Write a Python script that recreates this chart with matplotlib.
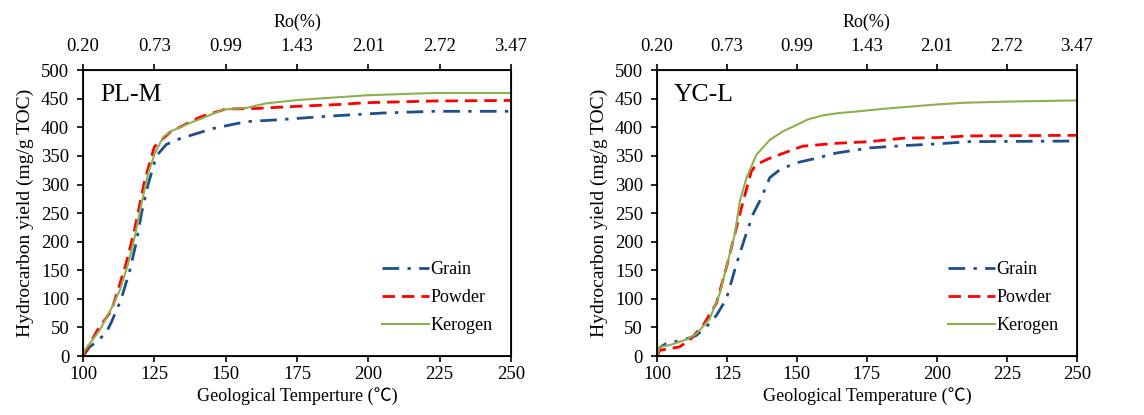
import matplotlib
matplotlib.use("Agg")
import matplotlib.pyplot as plt

# PL-M: temperature (degC) vs hydrocarbon yield (mg/g TOC)
plm_grain_t = [100, 102.3, 104.7, 108, 110, 113.4, 116.4, 118.7, 120.5, 122.8, 125.7, 129.2,
               133.9, 145.6, 157.3, 167.8, 187.7, 205, 222.8, 250]
plm_grain_y = [0, 16, 25, 40, 60, 100, 150, 200, 250, 300, 350, 370,
               380, 398, 410, 413, 420, 425, 428, 428]
plm_powder_t = [100, 102, 105, 110, 115, 118, 121.6, 125, 130.6, 141, 150, 160.8,
                176, 190, 199, 222.8, 250]
plm_powder_y = [0, 18, 45, 80, 160, 220, 307, 366, 392, 418, 432, 433,
                437, 440, 443, 446, 447]
plm_kerogen_t = [100, 100.6, 105.8, 109.9, 112.9, 115.8, 118.1, 120.5, 122.8, 125.1, 128.1,
                 130.4, 136.2, 143.3, 149.1, 157.3, 164.3, 176, 187.7, 199.4, 211, 222.8, 250]
plm_kerogen_y = [0, 10, 45, 83, 115, 162, 208, 267, 319, 354, 383,
                 392, 405, 419, 431, 434, 442, 448, 452, 456, 458, 460, 460]

# YC-L
ycl_grain_t = [100, 101, 103.3, 109.3, 114, 117.6, 121.2, 124.8, 128.4, 131.4, 134.3, 137.3,
               140.3, 143.9, 149.8, 157, 164, 176, 188, 200, 211.8, 250]
ycl_grain_y = [0, 15, 22, 28, 36, 51, 71, 100, 161, 207, 248, 277,
               312, 326, 338, 346, 355, 364, 368, 371, 375, 376]
ycl_powder_t = [100, 101, 104.5, 108, 111.7, 116.5, 121.2, 124.8, 128.4, 130.8, 133.7, 135.5,
                140.3, 152, 164, 176, 188, 200, 211.8, 250]
ycl_powder_y = [0, 10, 13, 16, 28, 54, 92, 155, 225, 271, 323, 335,
                346, 367, 372, 375, 381, 382, 385, 386]
ycl_kerogen_t = [100, 101, 104.5, 110.5, 114.1, 118.8, 122.4, 125.4, 127.8, 129.6, 132, 135.5,
                 140.3, 145, 149.8, 154, 159.4, 165, 170, 180, 190, 200, 210, 225, 250]
ycl_kerogen_y = [0, 16, 19, 29, 39, 65, 109, 167, 213, 271, 312, 352,
                 378, 393, 404, 414, 421, 425, 427, 432, 436, 440, 443, 445, 447]

temp_ticks = [100, 125, 150, 175, 200, 225, 250]
ro_labels = ["0.20", "0.73", "0.99", "1.43", "2.01", "2.72", "3.47"]
yield_ticks = list(range(0, 501, 50))

serif = ["Liberation Serif", "Noto Sans CJK SC"]
plt.rcParams["font.family"] = serif
plt.rcParams["font.size"] = 13.5

fig = plt.figure(figsize=(11.44, 4.15), dpi=100)
ax1 = fig.add_axes([0.0726, 0.142, 0.374, 0.689])
ax2 = fig.add_axes([0.5743, 0.142, 0.367, 0.689])

panels = [
    (ax1, "PL-M", "Geological Temperture (\u2103)",
     (plm_grain_t, plm_grain_y), (plm_powder_t, plm_powder_y), (plm_kerogen_t, plm_kerogen_y)),
    (ax2, "YC-L", "Geological Temperature (\u2103)",
     (ycl_grain_t, ycl_grain_y), (ycl_powder_t, ycl_powder_y), (ycl_kerogen_t, ycl_kerogen_y)),
]

for ax, name, xlabel, grain, powder, kerogen in panels:
    ax.plot(grain[0], grain[1], color="#1F4E8C", lw=2.0, ls=(0, (6, 3, 1.2, 3)), label="Grain")
    ax.plot(powder[0], powder[1], color="#FF0000", lw=2.0, ls=(0, (4.5, 2.5)), label="Powder")
    ax.plot(kerogen[0], kerogen[1], color="#8DB04F", lw=1.5, label="Kerogen")
    ax.set_xlim(100, 250)
    ax.set_ylim(0, 500)
    ax.set_xticks(temp_ticks)
    ax.set_yticks(yield_ticks)
    ax.tick_params(direction="out", length=4, width=1.2)
    ax.tick_params(axis="y", pad=6)
    ax.tick_params(axis="x", pad=3)
    for s in ax.spines.values():
        s.set_linewidth(1.3)
    ax.set_xlabel(xlabel, fontsize=13, labelpad=3)
    ax.set_ylabel("Hydrocarbon yield (mg/g TOC)", fontsize=14, labelpad=5)
    ax.text(0.04, 0.95, name, transform=ax.transAxes, fontsize=18.5, va="top", ha="left")
    ax.legend(loc="lower right", bbox_to_anchor=(0.995, 0.02), frameon=False,
              fontsize=13, handlelength=2.6, handletextpad=0.1, labelspacing=0.6)

    top = ax.twiny()
    top.set_xlim(ax.get_xlim())
    top.set_xticks(temp_ticks)
    top.set_xticklabels(ro_labels)
    top.tick_params(direction="out", length=4, width=1.2, pad=7)
    top.set_xlabel("Ro(%)", fontsize=13, labelpad=8)

fig.savefig("out.png", dpi=100)
